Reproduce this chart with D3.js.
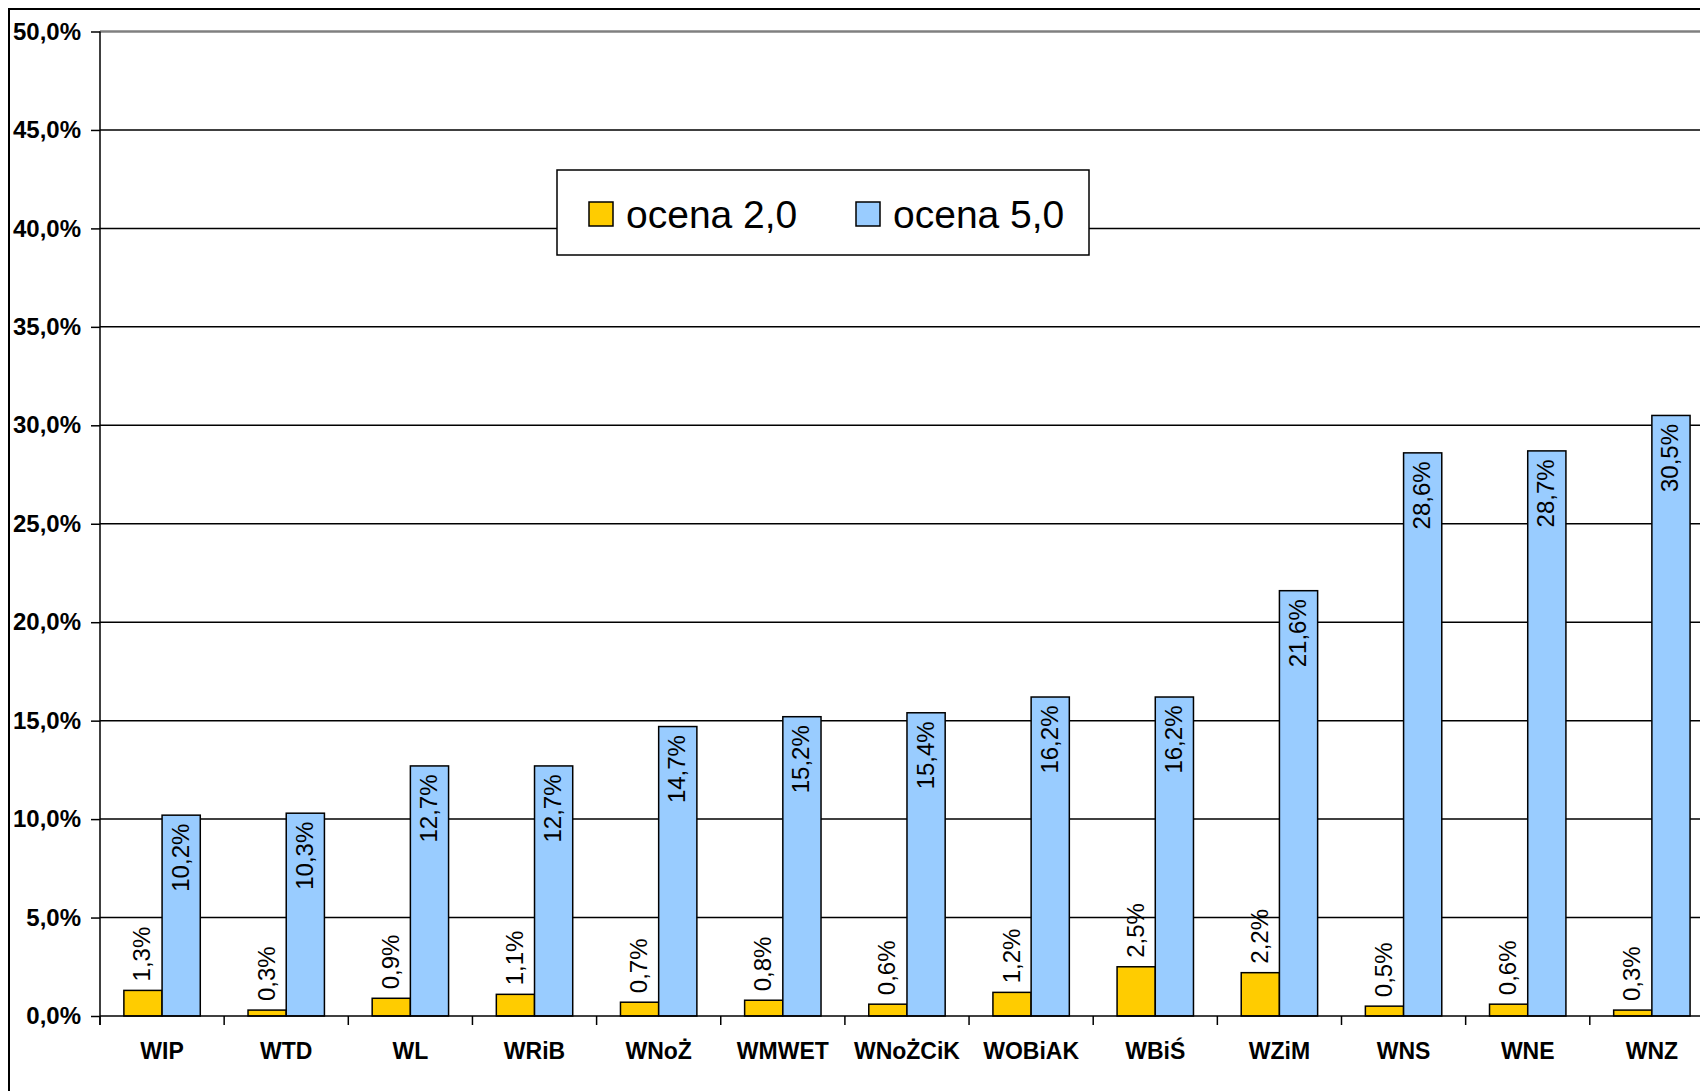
<!DOCTYPE html>
<html><head><meta charset="utf-8">
<script src="https://cdn.jsdelivr.net/npm/d3@7/dist/d3.min.js"></script>
<style>body{margin:0;background:#fff;} svg{display:block;font-family:"Liberation Sans",Arial,sans-serif;}</style>
</head><body>
<script>
const categories = ["WIP","WTD","WL","WRiB","WNoŻ","WMWET","WNoŻCiK","WOBiAK","WBiŚ","WZiM","WNS","WNE","WNZ"];
const ocena2 = [1.3,0.3,0.9,1.1,0.7,0.8,0.6,1.2,2.5,2.2,0.5,0.6,0.3];
const ocena5 = [10.2,10.3,12.7,12.7,14.7,15.2,15.4,16.2,16.2,21.6,28.6,28.7,30.5];
const yTicks = [0,5,10,15,20,25,30,35,40,45,50];
const seriesNames = ["ocena 2,0","ocena 5,0"];
const colors = ["#FFCC00","#99CCFF"];

const W = 1700, H = 1091;
const svg = d3.select("body").append("svg").attr("width",W).attr("height",H);

const x0 = 100, yTop = 31.5, yBot = 1016;
const bandW = 124.15;
const x = d3.scaleBand().domain(categories).range([x0, x0 + bandW*categories.length]).padding(0);
const y = d3.scaleLinear().domain([0,50]).range([yBot, yTop]);
const barW = 38.2;
const fmt = v => v.toFixed(1).replace(".",",") + "%";

// outer border
svg.append("path").attr("d",`M9,${H+5} L9,9 L${W+5},9`).attr("fill","none").attr("stroke","#000").attr("stroke-width",2);

// gridlines
svg.append("g").selectAll("line").data(yTicks.filter(t=>t>0)).join("line")
  .attr("x1",x0).attr("x2",W+5)
  .attr("y1",d=>y(d)).attr("y2",d=>y(d))
  .attr("stroke",d=>d===50?"#808080":"#000")
  .attr("stroke-width",d=>d===50?2.5:1.5);

// y axis
const yAxis = d3.axisLeft(y).tickValues(yTicks).tickFormat(fmt).tickSize(9).tickPadding(10);
const gy = svg.append("g").attr("transform",`translate(${x0},0)`).call(yAxis);
gy.select(".domain").remove();
gy.selectAll(".tick line").attr("stroke","#000").attr("stroke-width",1.5);
gy.selectAll(".tick text").attr("font-size",24).attr("font-weight","bold").attr("fill","#000")
  .attr("font-family","'Liberation Sans',Arial,sans-serif");
svg.append("line").attr("x1",x0).attr("x2",x0).attr("y1",yTop).attr("y2",yBot+9).attr("stroke","#000").attr("stroke-width",1.5);

// legend
const lg = svg.append("g");
lg.append("rect").attr("x",557).attr("y",170).attr("width",532).attr("height",85)
  .attr("fill","#fff").attr("stroke","#000").attr("stroke-width",1.5);
const legX = [589, 856];
seriesNames.forEach((n,i)=>{
  lg.append("rect").attr("x",legX[i]).attr("y",202).attr("width",24).attr("height",24)
    .attr("fill",colors[i]).attr("stroke","#000").attr("stroke-width",1.5);
  lg.append("text").attr("x",legX[i]+37).attr("y",227.5).attr("font-size",39).attr("fill","#000").text(n);
});

// bars
const data = categories.map((c,i)=>({c, a:ocena2[i], b:ocena5[i]}));
const g = svg.append("g");
const center = c => x(c) + x.bandwidth()/2;
g.selectAll("rect.a").data(data).join("rect").attr("class","a")
  .attr("x",d=>center(d.c)-barW).attr("width",barW)
  .attr("y",d=>y(d.a)).attr("height",d=>yBot-y(d.a))
  .attr("fill",colors[0]).attr("stroke","#000").attr("stroke-width",1.5);
g.selectAll("rect.b").data(data).join("rect").attr("class","b")
  .attr("x",d=>center(d.c)).attr("width",barW)
  .attr("y",d=>y(d.b)).attr("height",d=>yBot-y(d.b))
  .attr("fill",colors[1]).attr("stroke","#000").attr("stroke-width",1.5);

// x axis line and ticks
svg.append("line").attr("x1",x0).attr("x2",W+5).attr("y1",yBot).attr("y2",yBot).attr("stroke","#000").attr("stroke-width",1.5);
const xTicks = d3.range(categories.length+1).map(i=>x0+i*bandW);
svg.append("g").selectAll("line").data(xTicks).join("line")
  .attr("x1",d=>d).attr("x2",d=>d).attr("y1",yBot).attr("y2",yBot+9)
  .attr("stroke","#000").attr("stroke-width",1.5);
svg.append("g").selectAll("text").data(categories).join("text")
  .attr("x",d=>center(d)).attr("y",1059).attr("text-anchor","middle")
  .attr("font-size",23).attr("font-weight","bold").attr("fill","#000").text(d=>d);

// value labels
g.selectAll("text.a").data(data).join("text").attr("class","a")
  .attr("transform",d=>`translate(${center(d.c)-barW/2-1},${y(d.a)-9}) rotate(-90)`)
  .attr("dominant-baseline","central").attr("text-anchor","start")
  .attr("font-size",24).attr("fill","#000").text(d=>fmt(d.a));
g.selectAll("text.b").data(data).join("text").attr("class","b")
  .attr("transform",d=>`translate(${center(d.c)+barW/2-1},${y(d.b)+8.5}) rotate(-90)`)
  .attr("dominant-baseline","central").attr("text-anchor","end")
  .attr("font-size",24).attr("fill","#000").text(d=>fmt(d.b));
</script>
</body></html>
